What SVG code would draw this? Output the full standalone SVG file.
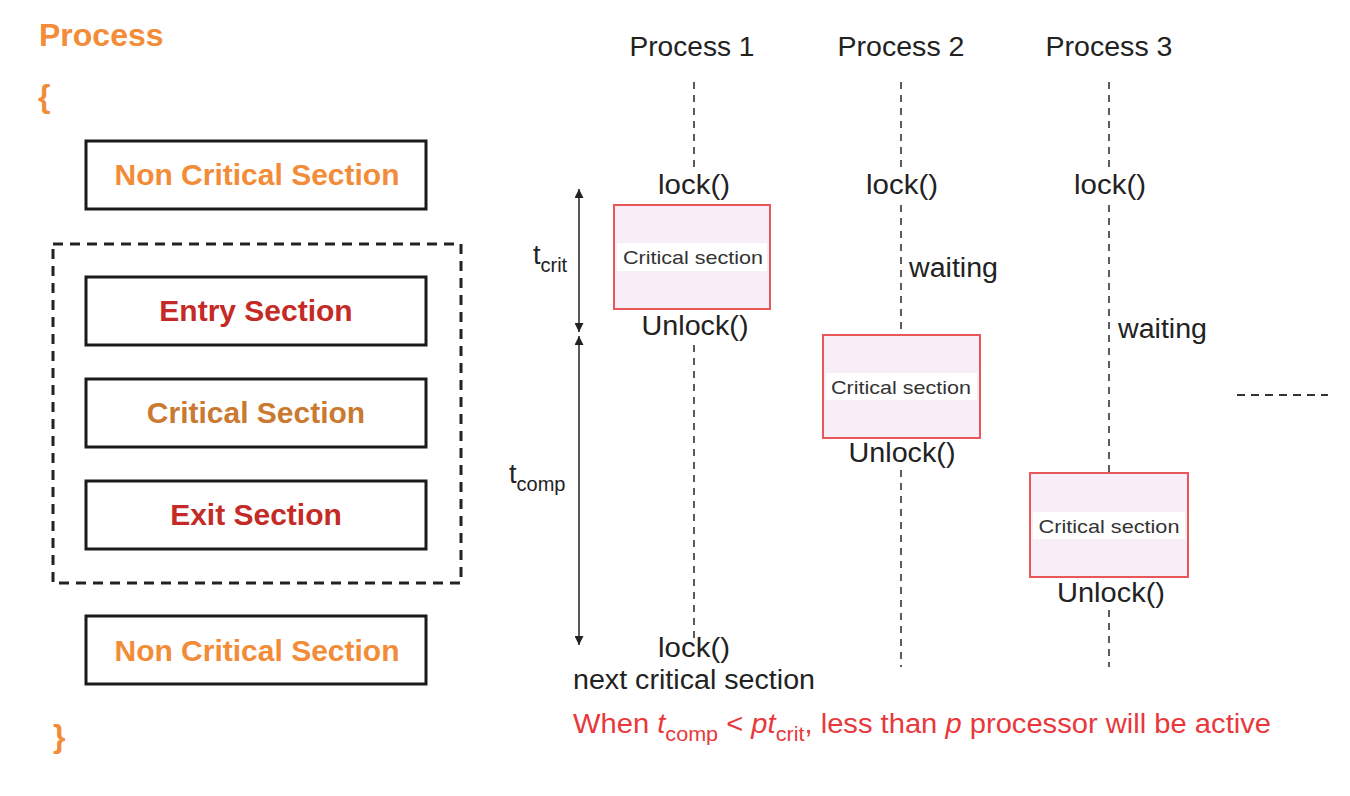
<svg xmlns="http://www.w3.org/2000/svg" width="1350" height="796" viewBox="0 0 1350 796">
<defs>
<marker id="ah" viewBox="0 0 10 10" refX="10" refY="5" markerWidth="11" markerHeight="9" markerUnits="userSpaceOnUse" orient="auto-start-reverse"><path d="M0,0 L10,5 L0,10 z" fill="#222"/></marker>
<style>
.bx{fill:#fff;stroke:#1a1a1a;stroke-width:3}
.bt{font-family:"Liberation Sans",Arial,sans-serif;font-weight:bold;font-size:30px;text-anchor:middle}
.or{fill:#f28c38}
.rd{fill:#c42a26}
.br{fill:#c97a30}
.t{font-family:"Liberation Sans",Arial,sans-serif;font-size:27px;fill:#222}
.m{text-anchor:middle}
.cs{fill:#f8eef7;stroke:#e8585a;stroke-width:2}
.band{fill:#fff}
.ct{font-family:"Liberation Sans",Arial,sans-serif;font-size:19px;fill:#333;text-anchor:middle}
.ll{stroke:#333;stroke-width:1.6;stroke-dasharray:7 6;fill:none}
.ar{stroke:#222;stroke-width:1.5;fill:none;marker-start:url(#ah);marker-end:url(#ah)}
</style>
</defs>
<rect width="1350" height="796" fill="#fff"/>

<g id="left">
<text x="39" y="46" font-family="Liberation Sans,Arial,sans-serif" font-weight="bold" font-size="32" class="or">Process</text>
<text x="38" y="107" font-family="Liberation Sans,Arial,sans-serif" font-weight="bold" font-size="32" class="or">{</text>
<text x="53" y="747" font-family="Liberation Sans,Arial,sans-serif" font-weight="bold" font-size="32" class="or">}</text>
</g>
<g id="n_noncrit1"><rect class="bx" x="86" y="141" width="340" height="68"/><text class="bt or" x="257" y="185">Non Critical Section</text></g>
<g id="n_group"><rect x="53" y="244" width="408" height="339" fill="none" stroke="#222" stroke-width="3" stroke-dasharray="10 7"/></g>
<g id="n_entry"><rect class="bx" x="86" y="277" width="340" height="68"/><text class="bt rd" x="256" y="321">Entry Section</text></g>
<g id="n_crit"><rect class="bx" x="86" y="379" width="340" height="68"/><text class="bt br" x="256" y="423">Critical Section</text></g>
<g id="n_exit"><rect class="bx" x="86" y="481" width="340" height="68"/><text class="bt rd" x="256" y="525">Exit Section</text></g>
<g id="n_noncrit2"><rect class="bx" x="86" y="616" width="340" height="68"/><text class="bt or" x="257" y="661">Non Critical Section</text></g>

<g id="connectors">
<path class="ll" d="M694,82 V168 M694,345 V640"/>
<path class="ll" d="M901,82 V168 M901,205 V335 M901,470 V667"/>
<path class="ll" d="M1109,82 V168 M1109,205 V473 M1109,610 V667"/>
<path d="M1237,395 H1328" stroke="#333" stroke-width="2" stroke-dasharray="8 6"/>
<line class="ar" x1="579" y1="189" x2="579" y2="332"/>
<line class="ar" x1="579" y1="336" x2="579" y2="645"/>
</g>

<g id="headers">
<text class="t m" x="692" y="56" textLength="125" lengthAdjust="spacingAndGlyphs">Process 1</text>
<text class="t m" x="901" y="56" textLength="127" lengthAdjust="spacingAndGlyphs">Process 2</text>
<text class="t m" x="1109" y="56" textLength="127" lengthAdjust="spacingAndGlyphs">Process 3</text>
</g>

<g id="p1">
<text class="t m" x="694" y="194" textLength="72" lengthAdjust="spacingAndGlyphs">lock()</text>
<rect class="cs" x="614" y="205" width="156" height="104"/>
<rect class="band" x="617" y="243" width="150" height="28"/>
<text class="ct" x="693" y="264" textLength="140" lengthAdjust="spacingAndGlyphs">Critical section</text>
<text class="t m" x="695" y="335" textLength="107" lengthAdjust="spacingAndGlyphs">Unlock()</text>
<text class="t m" x="694" y="657" textLength="72" lengthAdjust="spacingAndGlyphs">lock()</text>
<text class="t m" x="694" y="689" textLength="242" lengthAdjust="spacingAndGlyphs">next critical section</text>
</g>
<g id="p2">
<text class="t m" x="902" y="194" textLength="72" lengthAdjust="spacingAndGlyphs">lock()</text>
<text class="t" x="909" y="277" textLength="89" lengthAdjust="spacingAndGlyphs">waiting</text>
<rect class="cs" x="823" y="335" width="157" height="103"/>
<rect class="band" x="826" y="373" width="151" height="27"/>
<text class="ct" x="901" y="394" textLength="140" lengthAdjust="spacingAndGlyphs">Critical section</text>
<text class="t m" x="902" y="462" textLength="107" lengthAdjust="spacingAndGlyphs">Unlock()</text>
</g>
<g id="p3">
<text class="t m" x="1110" y="194" textLength="72" lengthAdjust="spacingAndGlyphs">lock()</text>
<text class="t" x="1118" y="338" textLength="89" lengthAdjust="spacingAndGlyphs">waiting</text>
<rect class="cs" x="1030" y="473" width="158" height="104"/>
<rect class="band" x="1033" y="512" width="152" height="27"/>
<text class="ct" x="1109" y="533" textLength="141" lengthAdjust="spacingAndGlyphs">Critical section</text>
<text class="t m" x="1111" y="602" textLength="108" lengthAdjust="spacingAndGlyphs">Unlock()</text>
</g>

<g id="labels">
<text class="t" x="533" y="264">t<tspan font-size="20" dy="8">crit</tspan></text>
<text class="t" x="509" y="483">t<tspan font-size="20" dy="8">comp</tspan></text>
<text class="t" x="573" y="733" style="fill:#e8383c" textLength="698" lengthAdjust="spacingAndGlyphs">When <tspan font-style="italic">t</tspan><tspan font-size="20" dy="8">comp</tspan><tspan dy="-8"> &lt; </tspan><tspan font-style="italic">pt</tspan><tspan font-size="20" dy="8">crit</tspan><tspan dy="-8">, less than </tspan><tspan font-style="italic">p</tspan> processor will be active</text>
</g>
</svg>
